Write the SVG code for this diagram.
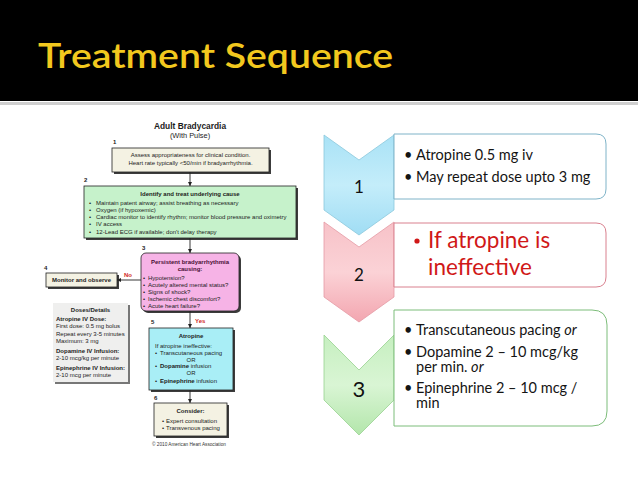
<svg xmlns="http://www.w3.org/2000/svg" width="638" height="479" viewBox="0 0 638 479">
<defs>
<style>
.ft{font-family:"Liberation Sans",Arial,Helvetica,sans-serif;fill:#1c1c1c;font-size:6px}
.b{font-weight:bold}
.c{text-anchor:middle}
.num{font-family:"Liberation Sans",Arial,sans-serif;font-size:6px;font-weight:bold;fill:#222}
.red{fill:#d0281e;font-weight:bold}
.bx{stroke:#222;stroke-width:0.8}
.sh{fill:#3c3c3c}
.beige{fill:#f4f2e3}
.conn{stroke:#222;stroke-width:0.9;fill:none;marker-end:url(#ah)}
.rt{font-family:Lato,"Open Sans","Liberation Sans",sans-serif;fill:#141414;font-size:14.5px}
.rr{font-family:Lato,"Open Sans","Liberation Sans",sans-serif;fill:#d01818;font-size:22.5px}
.lab{font-family:Lato,"Open Sans",sans-serif;fill:#111;text-anchor:middle}
</style>
<marker id="ah" viewBox="0 0 6 6" refX="6" refY="3" markerWidth="4" markerHeight="4" orient="auto" markerUnits="userSpaceOnUse"><path d="M0,0 L6,3 L0,6 Z" fill="#222"/></marker>
<linearGradient id="gBlue" x1="0" y1="0" x2="0" y2="1"><stop offset="0" stop-color="#a9e2f6"/><stop offset="0.5" stop-color="#c4edfa"/><stop offset="1" stop-color="#a0ddf4"/></linearGradient>
<linearGradient id="gPink" x1="0" y1="0" x2="0" y2="1"><stop offset="0" stop-color="#f7c2c8"/><stop offset="0.5" stop-color="#fbd2d6"/><stop offset="1" stop-color="#f3a6b0"/></linearGradient>
<linearGradient id="gGreen" x1="0" y1="0" x2="0" y2="1"><stop offset="0" stop-color="#c6efc0"/><stop offset="0.5" stop-color="#d9f5d4"/><stop offset="1" stop-color="#b3e6ab"/></linearGradient>
</defs>

<rect x="0" y="0" width="638" height="479" fill="#ffffff"/>
<rect x="0" y="0" width="638" height="101" fill="#000000"/>
<rect x="0" y="102" width="638" height="3" fill="#cfcfcf"/>
<text x="38" y="68" font-family="Lato,'Open Sans',sans-serif" font-size="35" font-weight="600" fill="#f2c81e" textLength="355" lengthAdjust="spacingAndGlyphs">Treatment Sequence</text>

<g id="flowchart">
  <text class="ft b c" x="190" y="129" style="font-size:8.4px">Adult Bradycardia</text>
  <text class="ft c" x="190" y="138" style="font-size:7.4px">(With Pulse)</text>

  <g id="box1">
    <text class="num" x="113" y="144">1</text>
    <rect class="sh" x="114" y="150" width="157" height="24"/>
    <rect class="bx beige" x="112" y="148" width="157" height="24"/>
    <text class="ft c" x="190.5" y="157">Assess appropriateness for clinical condition.</text>
    <text class="ft c" x="190.5" y="165">Heart rate typically &lt;50/min if bradyarrhythmia.</text>
  </g>

  <g id="box2">
    <text class="num" x="84" y="182">2</text>
    <rect class="sh" x="86" y="188" width="212" height="52"/>
    <rect class="bx" x="84" y="186" width="212" height="52" fill="#c6f2cb"/>
    <text class="ft b c" x="190" y="195.5">Identify and treat underlying cause</text>
    <text class="ft" x="89" y="205">•</text><text class="ft" x="96" y="205">Maintain patent airway; assist breathing as necessary</text>
    <text class="ft" x="89" y="212">•</text><text class="ft" x="96" y="212">Oxygen (if hypoxemic)</text>
    <text class="ft" x="89" y="219">•</text><text class="ft" x="96" y="219">Cardiac monitor to identify rhythm; monitor blood pressure and oximetry</text>
    <text class="ft" x="89" y="226">•</text><text class="ft" x="96" y="226">IV access</text>
    <text class="ft" x="89" y="233.5">•</text><text class="ft" x="96" y="233.5">12-Lead ECG if available; don't delay therapy</text>
  </g>

  <g id="box3">
    <text class="num" x="142" y="250">3</text>
    <rect class="sh" x="143" y="255" width="98" height="58" rx="5"/>
    <rect class="bx" x="141" y="253" width="98" height="58" rx="5" fill="#f6b3e6"/>
    <text class="ft b c" x="190" y="264" style="fill:#4a1036">Persistent bradyarrhythmia</text>
    <text class="ft b c" x="190" y="271" style="fill:#4a1036">causing:</text>
    <text class="ft" x="143" y="279.5">•</text><text class="ft" x="148" y="279.5">Hypotension?</text>
    <text class="ft" x="143" y="286.5">•</text><text class="ft" x="148" y="286.5">Acutely altered mental status?</text>
    <text class="ft" x="143" y="293.5">•</text><text class="ft" x="148" y="293.5">Signs of shock?</text>
    <text class="ft" x="143" y="300.5">•</text><text class="ft" x="148" y="300.5">Ischemic chest discomfort?</text>
    <text class="ft" x="143" y="307.5">•</text><text class="ft" x="148" y="307.5">Acute heart failure?</text>
  </g>

  <g id="box4">
    <text class="num" x="44" y="270">4</text>
    <rect class="sh" x="48" y="275" width="71" height="14"/>
    <rect class="bx beige" x="46" y="273" width="71" height="14"/>
    <text class="ft b c" x="81.5" y="282.2">Monitor and observe</text>
  </g>

  <g id="doses">
    <rect x="55" y="305" width="75" height="79" fill="#777"/>
    <rect x="53" y="303" width="75" height="79" fill="#efefee"/>
    <text class="ft b c" x="90.5" y="312">Doses/Details</text>
    <text class="ft b" x="56" y="321">Atropine IV Dose:</text>
    <text class="ft" x="56" y="328">First dose: 0.5 mg bolus</text>
    <text class="ft" x="56" y="335.5">Repeat every 3-5 minutes</text>
    <text class="ft" x="56" y="343">Maximum: 3 mg</text>
    <text class="ft b" x="56" y="353">Dopamine IV Infusion:</text>
    <text class="ft" x="56" y="360">2-10 mcg/kg per minute</text>
    <text class="ft b" x="56" y="370">Epinephrine IV Infusion:</text>
    <text class="ft" x="56" y="377">2-10 mcg per minute</text>
  </g>

  <g id="box5">
    <text class="num" x="151" y="324">5</text>
    <rect class="sh" x="151" y="330" width="84" height="62"/>
    <rect class="bx" x="149" y="328" width="84" height="62" fill="#a9eef6"/>
    <text class="ft b c" x="191" y="338">Atropine</text>
    <text class="ft" x="155" y="348">If atropine ineffective:</text>
    <text class="ft" x="155" y="355">•</text><text class="ft" x="160" y="355">Transcutaneous pacing</text>
    <text class="ft c" x="191" y="361.5">OR</text>
    <text class="ft" x="155" y="368">•</text><text class="ft" x="160" y="368"><tspan class="b">Dopamine</tspan> infusion</text>
    <text class="ft c" x="191" y="375">OR</text>
    <text class="ft" x="155" y="382.5">•</text><text class="ft" x="160" y="382.5"><tspan class="b">Epinephrine</tspan> infusion</text>
  </g>

  <g id="box6">
    <text class="num" x="154" y="400">6</text>
    <rect class="sh" x="156" y="405" width="73" height="33"/>
    <rect class="bx beige" x="154" y="403" width="73" height="33"/>
    <text class="ft b c" x="190.5" y="413">Consider:</text>
    <text class="ft" x="162" y="423">•</text><text class="ft" x="166" y="423">Expert consultation</text>
    <text class="ft" x="162" y="430">•</text><text class="ft" x="166" y="430">Transvenous pacing</text>
  </g>

  <text class="ft c" x="189" y="446" style="font-size:4.7px;fill:#333">© 2010 American Heart Association</text>

  <g id="connectors">
    <line class="conn" x1="190" y1="172" x2="190" y2="186"/>
    <line class="conn" x1="190" y1="238" x2="190" y2="253"/>
    <line class="conn" x1="141" y1="280" x2="117" y2="280"/>
    <line class="conn" x1="190" y1="311" x2="190" y2="328"/>
    <line class="conn" x1="190" y1="390" x2="190" y2="403"/>
    <text class="ft red c" x="128" y="276.5">No</text>
    <text class="ft red" x="195" y="322.5">Yes</text>
  </g>
</g>

<g id="step1">
  <path d="M324,135 L359,160 L394,135 L394,210 L359,235 L324,210 Z" fill="url(#gBlue)" stroke="#8cc8dc" stroke-width="0.8"/>
  <text class="lab" x="359" y="193" font-size="17">1</text>
  <path d="M394,134 H596 Q606,134 606,144 V189 Q606,199 596,199 H394 Z" fill="#ffffff" stroke="#7eb3c8" stroke-width="1"/>
  <text class="rt" x="404" y="160">•</text>
  <text class="rt" x="416" y="160">Atropine 0.5 mg iv</text>
  <text class="rt" x="404" y="182">•</text>
  <text class="rt" x="416" y="182">May repeat dose upto 3 mg</text>
</g>

<g id="step2">
  <path d="M324,222 L359,247 L394,222 L394,297 L359,322 L324,297 Z" fill="url(#gPink)" stroke="#e59aa5" stroke-width="0.8"/>
  <text class="lab" x="359" y="281" font-size="17">2</text>
  <path d="M394,223 H596 Q606,223 606,233 V277 Q606,287 596,287 H394 Z" fill="#ffffff" stroke="#d9808e" stroke-width="1"/>
  <circle cx="417" cy="241" r="2.6" fill="#d01818"/>
  <text class="rr" x="428" y="248">If atropine is</text>
  <text class="rr" x="428" y="275">ineffective</text>
</g>

<g id="step3">
  <path d="M324,335 L359,370 L394,335 L394,400 L359,435 L324,400 Z" fill="url(#gGreen)" stroke="#98d290" stroke-width="0.8"/>
  <text class="lab" x="359" y="397" font-size="22">3</text>
  <path d="M394,310 H592 Q607,310 607,325 V411 Q607,426 592,426 H394 Z" fill="#ffffff" stroke="#7dbd7a" stroke-width="1"/>
  <text class="rt" x="404" y="335">•</text>
  <text class="rt" x="416" y="335">Transcutaneous pacing <tspan font-style="italic">or</tspan></text>
  <text class="rt" x="404" y="357">•</text>
  <text class="rt" x="416" y="357">Dopamine 2 – 10 mcg/kg</text>
  <text class="rt" x="416" y="372">per min. <tspan font-style="italic">or</tspan></text>
  <text class="rt" x="404" y="393">•</text>
  <text class="rt" x="416" y="393">Epinephrine 2 – 10 mcg /</text>
  <text class="rt" x="416" y="408">min</text>
</g>
</svg>
